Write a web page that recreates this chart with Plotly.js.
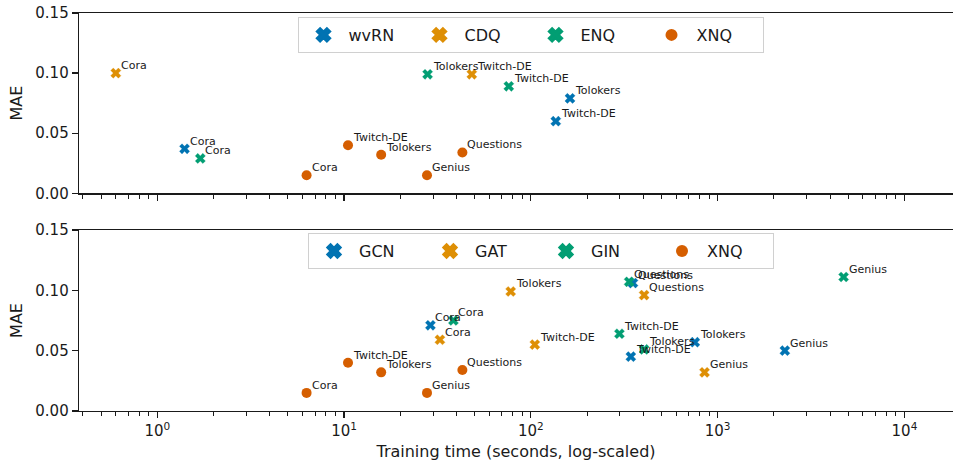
<!DOCTYPE html>
<html>
<head>
<meta charset="utf-8">
<script src="https://cdn.plot.ly/plotly-3.0.1.min.js"></script>
<style>
html,body{margin:0;padding:0;background:#fff;}
#chart{width:953px;height:467px;}
</style>
</head>
<body>
<div id="chart"></div>
<script>
// ---------- data (training time in seconds, MAE) ----------
// shared XNQ series (same in both panels)
const xnqNames = ["Cora", "Twitch-DE", "Tolokers", "Genius", "Questions"];
const xnqTime  = [6.3, 10.5, 15.8, 27.8, 43.0];
const xnqMAE   = [0.015, 0.040, 0.032, 0.015, 0.034];

// top panel
const wvrnNames = ["Cora", "Tolokers", "Twitch-DE"];
const wvrnTime  = [1.40, 162, 136];
const wvrnMAE   = [0.037, 0.079, 0.060];

const cdqNames = ["Cora", "Twitch-DE"];
const cdqTime  = [0.60, 48.3];
const cdqMAE   = [0.100, 0.099];

const enqNames = ["Cora", "Tolokers", "Twitch-DE"];
const enqTime  = [1.70, 28.0, 76.2];
const enqMAE   = [0.029, 0.099, 0.089];

// bottom panel
const gcnNames = ["Cora", "Twitch-DE", "Questions", "Tolokers", "Genius"];
const gcnTime  = [29.0, 343, 352, 755, 2290];
const gcnMAE   = [0.071, 0.045, 0.106, 0.057, 0.050];

const gatNames = ["Cora", "Tolokers", "Twitch-DE", "Questions", "Genius"];
const gatTime  = [32.6, 78, 105, 404, 851];
const gatMAE   = [0.059, 0.099, 0.055, 0.096, 0.032];

const ginNames = ["Cora", "Twitch-DE", "Questions", "Tolokers", "Genius"];
const ginTime  = [38.5, 298, 336, 404, 4725];
const ginMAE   = [0.075, 0.064, 0.107, 0.051, 0.111];

const xTickVals = [1, 10, 100, 1000, 10000];
const xTickText = ["10<sup>0</sup>", "10<sup>1</sup>", "10<sup>2</sup>", "10<sup>3</sup>", "10<sup>4</sup>"];
const yTickVals = [0, 0.05, 0.10, 0.15];
const yTickText = ["0.00", "0.05", "0.10", "0.15"];

// ---------- styling ----------
const C = {blue:"#0173b2", orange:"#de8f05", green:"#029e73", red:"#d55e00"};
const FONT = "DejaVu Sans, sans-serif";
const INK = "#1a1a1a";

function xTrace(name, t, m, color, xa, ya, legend){
  return {type:"scatter", mode:"markers", name:name, x:t, y:m, xaxis:xa, yaxis:ya, legend:legend,
    marker:{symbol:"x", size:9, color:color, line:{color:color, width:0.3}},
    hoverinfo:"skip"};
}
function oTrace(name, t, m, color, xa, ya, legend){
  return {type:"scatter", mode:"markers", name:name, x:t, y:m, xaxis:xa, yaxis:ya, legend:legend,
    marker:{symbol:"circle", size:10, color:color, line:{width:0}},
    hoverinfo:"skip"};
}

const data = [
  xTrace("wvRN", wvrnTime, wvrnMAE, C.blue, "x", "y", "legend"),
  xTrace("CDQ", cdqTime, cdqMAE, C.orange, "x", "y", "legend"),
  xTrace("ENQ", enqTime, enqMAE, C.green, "x", "y", "legend"),
  oTrace("XNQ", xnqTime, xnqMAE, C.red, "x", "y", "legend"),
  xTrace("GCN", gcnTime, gcnMAE, C.blue, "x2", "y2", "legend2"),
  xTrace("GAT", gatTime, gatMAE, C.orange, "x2", "y2", "legend2"),
  xTrace("GIN", ginTime, ginMAE, C.green, "x2", "y2", "legend2"),
  oTrace("XNQ", xnqTime, xnqMAE, C.red, "x2", "y2", "legend2")
];

const annotations = [];
function addLabels(names, t, m, xr, yr){
  names.forEach((n,i)=>{
    annotations.push({text:n, x:Math.log10(t[i]), y:m[i], xref:xr, yref:yr,
      xanchor:"left", yanchor:"bottom", xshift:3, yshift:-1, showarrow:false,
      font:{family:FONT, size:11, color:INK}});
  });
}
addLabels(wvrnNames, wvrnTime, wvrnMAE, "x", "y");
addLabels(cdqNames, cdqTime, cdqMAE, "x", "y");
addLabels(enqNames, enqTime, enqMAE, "x", "y");
addLabels(xnqNames, xnqTime, xnqMAE, "x", "y");
addLabels(gcnNames, gcnTime, gcnMAE, "x2", "y2");
addLabels(gatNames, gatTime, gatMAE, "x2", "y2");
addLabels(ginNames, ginTime, ginMAE, "x2", "y2");
addLabels(xnqNames, xnqTime, xnqMAE, "x2", "y2");

const xRange = [-0.419, 4.26];
function xAxis(anchor, labels, extra){
  return Object.assign({
    type:"log", range:xRange, anchor:anchor, domain:[0,1],
    showline:true, linecolor:INK, linewidth:1.3, mirror:true,
    showgrid:false, zeroline:false,
    ticks:"outside", ticklen:6, tickwidth:1.3, tickcolor:INK,
    tickvals:xTickVals, ticktext:xTickText, showticklabels:labels,
    tickfont:{family:FONT, size:15, color:INK},
    minor:{ticks:"outside", ticklen:4, tickwidth:1, tickcolor:INK, dtick:"D1", showgrid:false}
  }, extra||{});
}
function yAxis(anchor, domain){
  return {
    range:[0,0.15], anchor:anchor, domain:domain,
    showline:true, linecolor:INK, linewidth:1.3,
    showgrid:false, zeroline:false,
    ticks:"outside", ticklen:6, tickwidth:1.3, tickcolor:INK,
    tickvals:yTickVals, ticktext:yTickText,
    tickfont:{family:FONT, size:15, color:INK},
    title:{text:"MAE", font:{family:FONT, size:16, color:INK}, standoff:8}
  };
}

const legendBase = {
  orientation:"h", xref:"paper", yref:"paper", xanchor:"left", yanchor:"top",
  bgcolor:"rgba(255,255,255,0.85)", bordercolor:"#d0d0d0", borderwidth:1,
  font:{family:FONT, size:16, color:INK},
  itemsizing:"constant", itemwidth:40,
  entrywidth:61, entrywidthmode:"pixels", itemclick:false, itemdoubleclick:false
};

const layout = {
  width:953, height:467,
  margin:{l:79, r:0, t:13, b:56},
  paper_bgcolor:"#fff", plot_bgcolor:"#fff",
  font:{family:FONT, color:INK},
  showlegend:true,
  xaxis: xAxis("y", false),
  yaxis: yAxis("x", [0.547, 1]),
  xaxis2: xAxis("y2", true, {matches:"x",
    title:{text:"Training time (seconds, log-scaled)", font:{family:FONT, size:16, color:INK}, standoff:6}}),
  yaxis2: yAxis("x2", [0, 0.455]),
  legend: Object.assign({}, legendBase, {x:0.25, y:0.99}),
  legend2: Object.assign({}, legendBase, {x:0.262, y:0.447}),
  annotations: annotations
};

Plotly.newPlot("chart", data, layout, {staticPlot:true, displayModeBar:false});
</script>
</body>
</html>
